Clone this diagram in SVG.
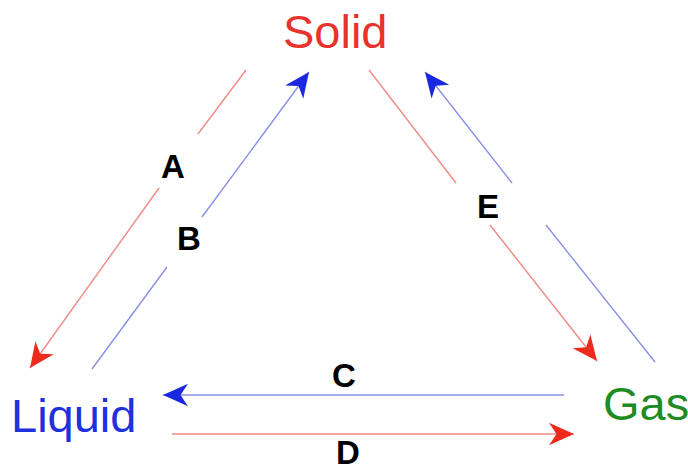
<svg xmlns="http://www.w3.org/2000/svg" width="688" height="470" viewBox="0 0 688 470">
<style>
.node{font-family:"Liberation Sans",Arial,sans-serif;font-size:47px}
.lbl{font-family:"Liberation Sans",Arial,sans-serif;font-size:33px;font-weight:bold;fill:#000;text-anchor:middle}
.r{fill:none;stroke:#f08a84;stroke-width:1.4}
.b{fill:none;stroke:#8a90e6;stroke-width:1.4}
</style>
<defs>
<marker id="mr" markerUnits="userSpaceOnUse" markerWidth="30" markerHeight="30" viewBox="-22 -11 24 22" refX="0" refY="0" orient="auto">
<path d="M0,0 L-20,-9 L-14,0 L-20,9 Z" fill="#ee2a1c"/>
</marker>
<marker id="mb" markerUnits="userSpaceOnUse" markerWidth="30" markerHeight="30" viewBox="-22 -11 24 22" refX="0" refY="0" orient="auto">
<path d="M0,0 L-20,-9 L-14,0 L-20,9 Z" fill="#1a28e0"/>
</marker>
</defs>
<g id="solid"><text class="node" x="283" y="48" fill="#e8322b">Solid</text></g>
<g id="liquid"><text class="node" x="11" y="432" fill="#1f30dc">Liquid</text></g>
<g id="gas"><text class="node" x="603" y="420" fill="#1e8c22">Gas</text></g>
<g id="connectors">
<path class="r" d="M246,70 L198,134 M159,188 L30,368" marker-end="url(#mr)"/>
<path class="b" d="M92,369 L167,267 M202,217 L309,72" marker-end="url(#mb)"/>
<path class="r" d="M369,70 L456,183 M490,225 L597,361" marker-end="url(#mr)"/>
<path class="b" d="M655,362 L546,225 M512,183 L425,72" marker-end="url(#mb)"/>
<path class="b" d="M564,395 L163,395" marker-end="url(#mb)"/>
<path class="r" d="M172,434 L574,434" marker-end="url(#mr)"/>
</g>
<g id="labels">
<text class="lbl" x="173" y="178">A</text>
<text class="lbl" x="189" y="250">B</text>
<text class="lbl" x="344" y="387">C</text>
<text class="lbl" x="348" y="464">D</text>
<text class="lbl" x="488" y="218">E</text>
</g>
</svg>
